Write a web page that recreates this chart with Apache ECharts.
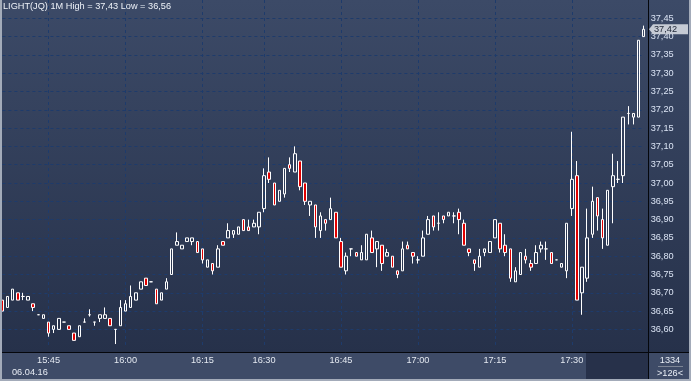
<!DOCTYPE html>
<html>
<head>
<meta charset="utf-8">
<script src="https://cdn.jsdelivr.net/npm/echarts@6/dist/echarts.min.js"></script>
<style>
html,body{margin:0;padding:0;background:#2f3b55;}
#chart{width:691px;height:381px;}
</style>
</head>
<body>
<div id="chart"></div>
<script>
// ---- data (1-minute candles, 06.04.16) ----
const opens = [
36.68,36.66,36.68,36.70,36.69,36.68,36.67,36.64,36.63,36.62,
36.60,36.60,36.62,36.61,36.59,36.58,36.62,36.64,36.62,36.63,
36.63,36.63,36.60,36.61,36.65,36.66,36.68,36.71,36.74,36.73,
36.71,36.68,36.71,36.75,36.83,36.82,36.84,36.84,36.84,36.82,
36.77,36.78,36.77,36.84,36.85,36.86,36.86,36.90,36.88,36.88,
36.88,36.93,37.03,37.00,36.95,36.97,37.05,37.03,37.06,37.00,
36.94,36.94,36.87,36.90,36.90,36.92,36.84,36.76,36.82,36.81,
36.79,36.79,36.85,36.82,36.83,36.80,36.80,36.76,36.76,36.83,
36.81,36.79,36.80,36.86,36.91,36.89,36.91,36.91,36.91,36.92,
36.89,36.82,36.79,36.77,36.81,36.81,36.85,36.89,36.83,36.82,
36.73,36.75,36.80,36.78,36.78,36.82,36.82,36.81,36.79,36.77,
36.76,36.93,37.02,36.70,36.74,36.86,36.96,36.90,36.83,36.99,
37.01,37.02,37.19,37.18,37.18,37.40];
const closes = [
36.65,36.69,36.71,36.68,36.69,36.69,36.66,36.64,36.64,36.59,
36.61,36.63,36.62,36.60,36.57,36.61,36.62,36.64,36.62,36.64,
36.64,36.61,36.60,36.66,36.67,36.69,36.70,36.73,36.72,36.73,
36.67,36.70,36.73,36.82,36.84,36.83,36.85,36.85,36.81,36.79,
36.79,36.76,36.82,36.83,36.87,36.87,36.88,36.87,36.87,36.89,
36.92,37.02,37.01,36.94,36.98,37.04,37.04,37.08,36.99,36.95,
36.95,36.88,36.91,36.89,36.93,36.85,36.77,36.80,36.82,36.80,
36.81,36.86,36.81,36.84,36.78,36.81,36.77,36.75,36.82,36.82,
36.80,36.79,36.85,36.90,36.88,36.89,36.90,36.92,36.91,36.90,
36.83,36.81,36.78,36.80,36.82,36.84,36.90,36.82,36.81,36.74,
36.76,36.81,36.79,36.77,36.81,36.83,36.82,36.78,36.79,36.78,
36.89,37.01,36.68,36.77,36.85,36.95,36.91,36.85,36.98,37.02,
37.01,37.18,37.19,37.19,37.39,37.42];
const lows = [
36.65,36.66,36.68,36.68,36.68,36.68,36.65,36.64,36.63,36.58,
36.59,36.60,36.62,36.60,36.57,36.58,36.62,36.635,36.61,36.62,
36.63,36.61,36.56,36.61,36.65,36.66,36.68,36.71,36.72,36.73,
36.67,36.68,36.71,36.75,36.83,36.82,36.84,36.83,36.81,36.78,
36.77,36.75,36.77,36.83,36.85,36.85,36.86,36.87,36.87,36.88,
36.86,36.92,37.00,36.94,36.95,36.96,37.03,37.03,36.98,36.94,
36.91,36.85,36.85,36.87,36.90,36.85,36.77,36.75,36.80,36.80,
36.79,36.79,36.81,36.77,36.76,36.80,36.77,36.74,36.76,36.82,
36.78,36.78,36.80,36.86,36.87,36.87,36.89,36.91,36.89,36.86,
36.83,36.80,36.76,36.77,36.80,36.81,36.85,36.81,36.80,36.73,
36.73,36.75,36.78,36.76,36.78,36.81,36.79,36.78,36.79,36.77,
36.74,36.91,36.68,36.64,36.73,36.85,36.87,36.82,36.83,36.89,
37.00,37.00,37.16,37.16,37.18,37.40];
const highs = [
36.68,36.69,36.71,36.70,36.70,36.69,36.67,36.64,36.64,36.62,
36.61,36.63,36.62,36.61,36.59,36.61,36.63,36.655,36.62,36.64,
36.66,36.63,36.60,36.68,36.68,36.72,36.70,36.73,36.74,36.73,
36.71,36.70,36.74,36.82,36.865,36.83,36.85,36.85,36.84,36.82,
36.79,36.78,36.83,36.84,36.89,36.87,36.88,36.90,36.90,36.90,
36.92,37.04,37.07,37.00,36.98,37.04,37.07,37.10,37.06,37.00,
36.95,36.94,36.92,36.90,36.96,36.92,36.85,36.81,36.82,36.81,
36.83,36.86,36.87,36.84,36.83,36.82,36.80,36.76,36.84,36.84,
36.81,36.80,36.87,36.91,36.91,36.92,36.91,36.92,36.92,36.93,
36.90,36.82,36.79,36.82,36.82,36.84,36.90,36.89,36.86,36.82,
36.77,36.81,36.82,36.79,36.83,36.84,36.84,36.81,36.79,36.78,
36.89,37.14,37.06,36.77,36.93,36.99,36.96,36.93,36.98,37.08,
37.06,37.18,37.21,37.19,37.39,37.43];
const tickIdx = [9,24,39,51,66,81,96,111];
const tickLabels = ['15:45','16:00','16:15','16:30','16:45','17:00','17:15','17:30'];
const titleText = 'LIGHT(JQ) 1M High = 37,43 Low = 36,56';
const dateText = '06.04.16';
const barsText = '1334';
const countText = '>126<';

// ---- build ----
const FF = '"Liberation Sans", Arial, sans-serif';
const FS = 9.2;
const categories = opens.map((_, i) => {
  const k = tickIdx.indexOf(i);
  return k >= 0 ? tickLabels[k] : 'c' + i;
});
const candleData = opens.map((o, i) => [o, closes[i], lows[i], highs[i]]);
const isTick = (i) => tickIdx.indexOf(i) >= 0;
const gridColor = '#1e3b6b';

const chart = echarts.init(document.getElementById('chart'), null, {renderer: 'canvas'});
chart.setOption({
  animation: false,
  title: {
    text: titleText, left: 3, top: 2, padding: 0,
    textStyle: {color: '#eef2f8', fontSize: FS, fontWeight: 'normal', fontFamily: FF}
  },
  grid: {left: 2.4, right: 47.35, top: 0, bottom: 33.3, containLabel: false},
  xAxis: {
    type: 'category', data: categories, boundaryGap: false, z: 5,
    axisLine: {show: false}, axisTick: {show: false},
    axisLabel: {interval: (i) => isTick(i), margin: 8, color: '#e4e9f1', fontSize: FS, fontFamily: FF},
    splitLine: {show: true, interval: (i) => isTick(i), lineStyle: {color: gridColor, type: [3, 3], width: 1}}
  },
  yAxis: {
    type: 'value', position: 'right', min: 36.55, max: 37.50, interval: 0.05, z: 5,
    axisLine: {show: false}, axisTick: {show: false},
    axisLabel: {
      margin: 7, color: '#dbe4f4', fontSize: FS, fontFamily: FF,
      showMinLabel: false, showMaxLabel: false,
      formatter: (v) => v.toFixed(2).replace('.', ',')
    },
    splitLine: {show: true, showMinLine: false, showMaxLine: false,
      lineStyle: {color: gridColor, type: [3, 3], width: 1}}
  },
  series: [{
    type: 'candlestick', data: candleData, z: 6, clip: false, barWidth: 3,
    itemStyle: {color: 'rgba(0,0,0,0)', color0: '#e00000', borderColor: '#ffffff', borderColor0: '#ffffff', borderWidth: 1}
  }]
});

const lastClose = closes[closes.length - 1];
const cy = chart.convertToPixel({yAxisIndex: 0}, lastClose);
const txt = (text, x, y, align, fill) => ({
  type: 'text', z: 12, x: x, y: y,
  style: {text: text, fill: fill || '#e8edf5', font: FS + 'px ' + FF,
    align: align, textAlign: align, verticalAlign: 'middle', textVerticalAlign: 'middle'}
});
chart.setOption({
  graphic: [
    {type: 'rect', z: 0, shape: {x: 0, y: 0, width: 691, height: 353},
      style: {fill: new echarts.graphic.LinearGradient(0, 0, 0, 1, [
        {offset: 0, color: '#3c4a67'}, {offset: 1, color: '#26314a'}])}},
    {type: 'rect', z: 1, shape: {x: 0, y: 353, width: 691, height: 28}, style: {fill: '#3e4b67'}},
    {type: 'rect', z: 1, shape: {x: 586, y: 353, width: 62, height: 26}, style: {fill: '#27314a'}},
    {type: 'line', z: 10, shape: {x1: 0, y1: 352.5, x2: 691, y2: 352.5}, style: {stroke: '#05070c', lineWidth: 1}},
    {type: 'line', z: 10, shape: {x1: 648.5, y1: 0, x2: 648.5, y2: 381}, style: {stroke: '#05070c', lineWidth: 1}},
    {type: 'line', z: 10, shape: {x1: 658, y1: 366.5, x2: 683, y2: 366.5}, style: {stroke: '#7d8595', lineWidth: 1}},
    {type: 'rect', z: 11, shape: {x: 0, y: 0, width: 2, height: 381}, style: {fill: '#a3abb9'}},
    {type: 'rect', z: 11, shape: {x: 689, y: 0, width: 2, height: 381}, style: {fill: '#a3abb9'}},
    {type: 'rect', z: 11, shape: {x: 0, y: 379, width: 691, height: 2}, style: {fill: '#a3abb9'}},
    txt(dateText, 12, 372, 'left'),
    txt(barsText, 670, 360, 'center'),
    txt(countText, 670, 373, 'center'),
    {type: 'polygon', z: 12, shape: {points: [[649, cy], [653, cy - 5], [688, cy - 5], [688, cy + 5], [653, cy + 5]]},
      style: {fill: '#c6cbd5'}},
    txt(lastClose.toFixed(2).replace('.', ','), 654, cy, 'left', '#1c2434')
  ]
});
</script>
</body>
</html>
